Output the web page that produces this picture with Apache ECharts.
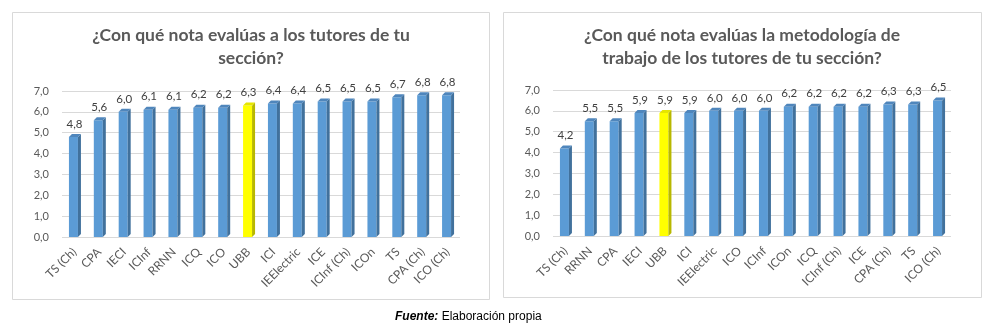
<!DOCTYPE html>
<html><head><meta charset="utf-8">
<script src="https://cdn.jsdelivr.net/npm/echarts@6/dist/echarts.min.js"></script>
<style>html,body{margin:0;padding:0;background:#fff}#c{width:994px;height:331px}</style>
</head><body><div id="c"></div>
<script>
const title1 = "¿Con qué nota evalúas a los tutores de tu\nsección?";
const title2 = "¿Con qué nota evalúas la metodología de\ntrabajo de los tutores de tu sección?";
const categories1 = ["TS (Ch)","CPA","IECI","ICInf","RRNN","ICQ","ICO","UBB","ICI","IEElectric","ICE","ICInf (Ch)","ICOn","TS","CPA (Ch)","ICO (Ch)"];
const values1 = [4.8,5.6,6.0,6.1,6.1,6.2,6.2,6.3,6.4,6.4,6.5,6.5,6.5,6.7,6.8,6.8];
const categories2 = ["TS (Ch)","RRNN","CPA","IECI","UBB","ICI","IEElectric","ICO","ICInf","ICOn","ICQ","ICInf (Ch)","ICE","CPA (Ch)","TS","ICO (Ch)"];
const values2 = [4.2,5.5,5.5,5.9,5.9,5.9,6.0,6.0,6.0,6.2,6.2,6.2,6.2,6.3,6.3,6.5];
const yTicks = [0,1,2,3,4,5,6,7];
const highlight = "UBB";
const footerBold = "Fuente:";
const footerText = " Elaboración propia";

const fmt = v => v.toFixed(1).replace('.', ',');
const FONT = 'Lato, "Open Sans", sans-serif';

function makeRender(cats) {
  return function (params, api) {
    const idx = api.value(0), v = api.value(1);
    const top = api.coord([idx, v]);
    const base = api.coord([idx, 0]);
    const bw = 9, d = 3;
    const l = top[0] - bw / 2 - 1;
    const hi = cats[idx] === highlight;
    const front = hi ? '#FFFF00' : '#5B9BD5';
    const side = hi ? '#B8B800' : '#41719C';
    const cap = hi ? '#E6E600' : '#4F86BC';
    return {
      type: 'group',
      children: [
        {type: 'rect', shape: {x: l, y: top[1], width: bw, height: base[1] - top[1]}, style: {fill: front}},
        {type: 'polygon', shape: {points: [[l + bw, top[1]], [l + bw + d, top[1] - d], [l + bw + d, base[1] - d], [l + bw, base[1]]]}, style: {fill: side}},
        {type: 'polygon', shape: {points: [[l, top[1]], [l + d, top[1] - d], [l + bw + d, top[1] - d], [l + bw, top[1]]]}, style: {fill: cap}},
        {type: 'text', style: {text: fmt(v), x: top[0], y: top[1] - 7, align: 'center', verticalAlign: 'bottom', fill: '#404040', font: '11.5px ' + FONT}}
      ]
    };
  };
}

const yAxisCommon = {
  type: 'value', min: 0, max: 7, interval: 1,
  axisLine: {show: false}, axisTick: {show: false},
  axisLabel: {formatter: v => yTicks.includes(v) ? fmt(v) : '', color: '#595959', fontSize: 11, fontFamily: FONT, margin: 13},
  splitLine: {lineStyle: {color: '#D9D9D9', width: 1}}
};
const xAxisCommon = {
  type: 'category', boundaryGap: true,
  axisLine: {show: false}, axisTick: {show: false},
  axisLabel: {rotate: 45, color: '#595959', fontSize: 12, fontFamily: FONT, margin: 13, interval: 0}
};

const chart = echarts.init(document.getElementById('c'), null, {renderer: 'canvas'});
chart.setOption({
  animation: false,
  backgroundColor: '#fff',
  title: [
    {text: title1, left: 251, top: 24, padding: 0, textAlign: 'center', textStyle: {fontFamily: FONT, fontSize: 17.5, fontWeight: 'bold', color: '#595959', lineHeight: 23}},
    {text: title2, left: 742, top: 24, padding: 0, textAlign: 'center', textStyle: {fontFamily: FONT, fontSize: 17.5, fontWeight: 'bold', color: '#595959', lineHeight: 23}}
  ],
  grid: [
    {left: 62, width: 398, top: 91, height: 146},
    {left: 553, width: 398, top: 90, height: 146}
  ],
  xAxis: [
    Object.assign({gridIndex: 0, data: categories1}, xAxisCommon),
    Object.assign({gridIndex: 1, data: categories2}, xAxisCommon)
  ],
  yAxis: [
    Object.assign({gridIndex: 0}, yAxisCommon),
    Object.assign({gridIndex: 1}, yAxisCommon)
  ],
  series: [
    {type: 'custom', xAxisIndex: 0, yAxisIndex: 0, renderItem: makeRender(categories1), data: values1.map((v, i) => [i, v]), encode: {x: 0, y: 1}},
    {type: 'custom', xAxisIndex: 1, yAxisIndex: 1, renderItem: makeRender(categories2), data: values2.map((v, i) => [i, v]), encode: {x: 0, y: 1}}
  ],
  graphic: [
    {type: 'rect', shape: {x: 12.5, y: 12.5, width: 477, height: 287}, style: {fill: 'none', stroke: '#D9D9D9', lineWidth: 1}, z: -1},
    {type: 'rect', shape: {x: 503.5, y: 12.5, width: 478, height: 285}, style: {fill: 'none', stroke: '#D9D9D9', lineWidth: 1}, z: -1},
    {type: 'text', x: 395, y: 317, style: {text: '{b|' + footerBold + '}' + footerText, verticalAlign: 'middle', font: '12px "Liberation Sans", Arial, sans-serif', fill: '#000', rich: {b: {fontWeight: 'bold', fontStyle: 'italic', fontSize: 12, fontFamily: '"Liberation Sans", Arial, sans-serif', fill: '#000'}}}}
  ]
});
</script></body></html>
